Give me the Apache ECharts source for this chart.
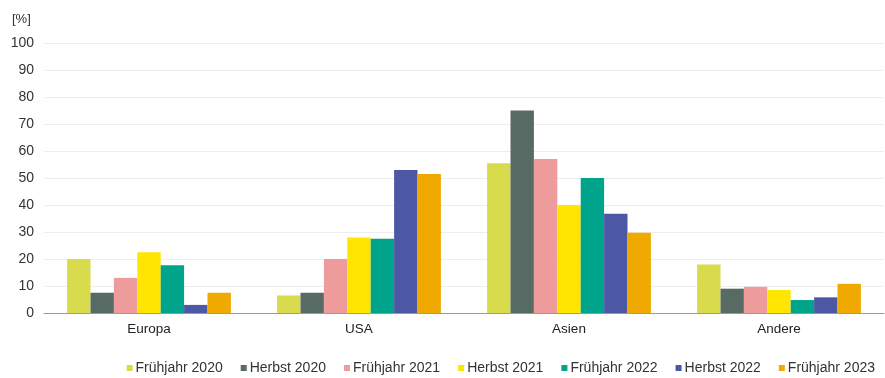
<!DOCTYPE html>
<html><head><meta charset="utf-8">
<script src="https://cdn.jsdelivr.net/npm/echarts@6/dist/echarts.min.js"></script>
<style>html,body{margin:0;padding:0;background:#fff}#c{width:885px;height:378px}</style>
</head><body><div id="c"></div>
<script>
const categories = ["Europa", "USA", "Asien", "Andere"];
const seriesNames = ["Frühjahr 2020", "Herbst 2020", "Frühjahr 2021", "Herbst 2021", "Frühjahr 2022", "Herbst 2022", "Frühjahr 2023"];
const fruehjahr2020 = [20, 6.5, 55.5, 18];
const herbst2020 = [7.5, 7.5, 75, 9];
const fruehjahr2021 = [13, 20, 57, 9.7];
const herbst2021 = [22.5, 28, 40, 8.5];
const fruehjahr2022 = [17.7, 27.5, 50, 4.8];
const herbst2022 = [3, 53, 36.8, 5.8];
const fruehjahr2023 = [7.5, 51.5, 29.7, 10.8];
const colors = ["#d8dc4c", "#586a64", "#ee9c9b", "#ffe500", "#00a48a", "#4c58a4", "#f0a900"];
const yTicks = [0, 10, 20, 30, 40, 50, 60, 70, 80, 90, 100];

const allData = [fruehjahr2020, herbst2020, fruehjahr2021, herbst2021, fruehjahr2022, herbst2022, fruehjahr2023];
const FF = 'Liberation Sans, Arial, sans-serif';
const chart = echarts.init(document.getElementById('c'), null, {renderer: 'canvas'});
chart.setOption({
  animation: false,
  textStyle: {fontFamily: FF},
  color: colors,
  grid: {left: 44, right: 1, top: 43, bottom: 65},
  title: {text: '[%]', left: 7, top: 8, textStyle: {fontSize: 13, fontWeight: 'normal', color: '#333', fontFamily: FF}},
  legend: {
    data: seriesNames, right: 5, top: 356, itemWidth: 6, itemHeight: 6, itemGap: 18,
    icon: 'rect', textStyle: {fontSize: 14, color: '#333', padding: [0, 0, 0, -2]}
  },
  xAxis: {
    type: 'category', data: categories,
    axisLine: {lineStyle: {color: '#9a9a9a'}}, axisTick: {show: false},
    axisLabel: {fontSize: 13.5, color: '#222', margin: 9}
  },
  yAxis: {
    type: 'value', min: yTicks[0], max: yTicks[yTicks.length - 1], interval: 10,
    axisLine: {show: false}, axisTick: {show: false},
    axisLabel: {fontSize: 14, color: '#333', margin: 10},
    splitLine: {lineStyle: {color: '#ededed'}}
  },
  series: seriesNames.map((n, i) => ({
    name: n, type: 'bar', data: allData[i], barGap: '0%', barCategoryGap: '22%'
  }))
});
</script></body></html>
